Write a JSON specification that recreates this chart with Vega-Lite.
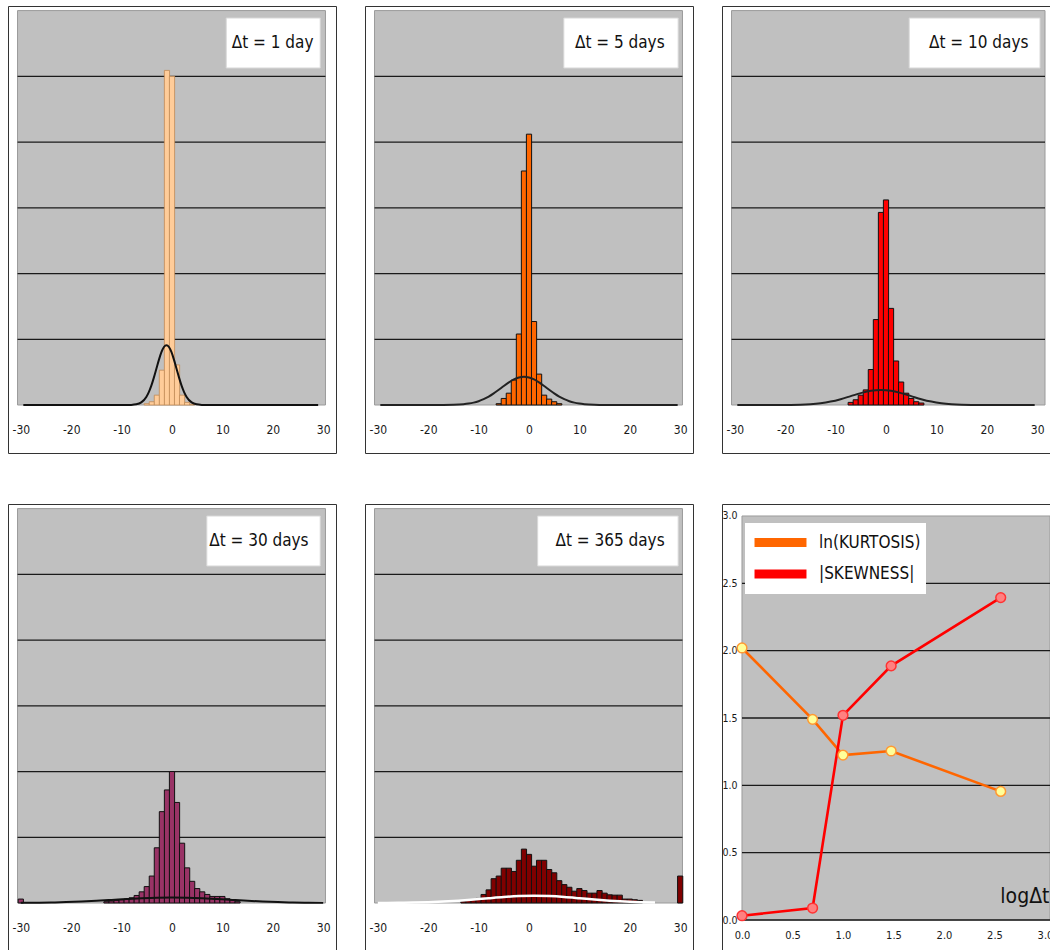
{
  "$schema": "https://vega.github.io/schema/vega-lite/v6.json",
  "background": "white",
  "padding": {"left": 7, "top": 5, "right": 0, "bottom": 0},
  "bounds": "flush",
  "columns": 3,
  "spacing": {"row": 51, "column": 29},
  "config": {
    "locale": {"number": {"decimal": ".", "thousands": ",", "grouping": [3], "currency": ["$", ""], "minus": "-"}},
    "view": {"stroke": "#333333", "strokeWidth": 1, "fill": "white"},
    "axis": {"labelFont": "DejaVu Sans Condensed, Liberation Sans, sans-serif", "labelColor": "#1a1a1a", "labelFontSize": 12, "domain": false, "ticks": false, "grid": false}
  },
  "datasets": {
    "bars1": [
      {"ret": -5, "freq": 0.02}, {"ret": -4, "freq": 0.05}, {"ret": -3, "freq": 0.15}, {"ret": -2, "freq": 0.53},
      {"ret": -1, "freq": 5.09}, {"ret": 0, "freq": 5.0}, {"ret": 1, "freq": 0.61}, {"ret": 2, "freq": 0.15},
      {"ret": 3, "freq": 0.04}, {"ret": 4, "freq": 0.01}
    ],
    "bars5": [
      {"ret": -6, "freq": 0.02}, {"ret": -5, "freq": 0.10}, {"ret": -4, "freq": 0.18}, {"ret": -3, "freq": 0.38},
      {"ret": -2, "freq": 1.08}, {"ret": -1, "freq": 3.56}, {"ret": 0, "freq": 4.12}, {"ret": 1, "freq": 1.27},
      {"ret": 2, "freq": 0.47}, {"ret": 3, "freq": 0.15}, {"ret": 4, "freq": 0.09}, {"ret": 5, "freq": 0.05},
      {"ret": 6, "freq": 0.02}
    ],
    "bars10": [
      {"ret": -7, "freq": 0.04}, {"ret": -6, "freq": 0.08}, {"ret": -5, "freq": 0.15}, {"ret": -4, "freq": 0.23},
      {"ret": -3, "freq": 0.54}, {"ret": -2, "freq": 1.30}, {"ret": -1, "freq": 2.93}, {"ret": 0, "freq": 3.12},
      {"ret": 1, "freq": 1.47}, {"ret": 2, "freq": 0.67}, {"ret": 3, "freq": 0.35}, {"ret": 4, "freq": 0.18},
      {"ret": 5, "freq": 0.10}, {"ret": 6, "freq": 0.05}, {"ret": 7, "freq": 0.03}
    ],
    "bars30": [
      {"ret": -30, "freq": 0.06}, {"ret": -13, "freq": 0.02}, {"ret": -12, "freq": 0.03}, {"ret": -11, "freq": 0.04},
      {"ret": -10, "freq": 0.05}, {"ret": -9, "freq": 0.06}, {"ret": -8, "freq": 0.08}, {"ret": -7, "freq": 0.115},
      {"ret": -6, "freq": 0.17}, {"ret": -5, "freq": 0.25}, {"ret": -4, "freq": 0.41}, {"ret": -3, "freq": 0.84},
      {"ret": -2, "freq": 1.39}, {"ret": -1, "freq": 1.72}, {"ret": 0, "freq": 2.0}, {"ret": 1, "freq": 1.53},
      {"ret": 2, "freq": 0.91}, {"ret": 3, "freq": 0.535}, {"ret": 4, "freq": 0.33}, {"ret": 5, "freq": 0.22},
      {"ret": 6, "freq": 0.17}, {"ret": 7, "freq": 0.13}, {"ret": 8, "freq": 0.10}, {"ret": 9, "freq": 0.10},
      {"ret": 10, "freq": 0.10}, {"ret": 11, "freq": 0.065}, {"ret": 12, "freq": 0.05}, {"ret": 13, "freq": 0.02}
    ],
    "bars365": [
      {"ret": -13, "freq": 0.03}, {"ret": -12, "freq": 0.04}, {"ret": -11, "freq": 0.05}, {"ret": -10, "freq": 0.07},
      {"ret": -9, "freq": 0.13}, {"ret": -8, "freq": 0.20}, {"ret": -7, "freq": 0.37}, {"ret": -6, "freq": 0.41},
      {"ret": -5, "freq": 0.53}, {"ret": -4, "freq": 0.53}, {"ret": -3, "freq": 0.48}, {"ret": -2, "freq": 0.65},
      {"ret": -1, "freq": 0.82}, {"ret": 0, "freq": 0.74}, {"ret": 1, "freq": 0.56}, {"ret": 2, "freq": 0.65},
      {"ret": 3, "freq": 0.65}, {"ret": 4, "freq": 0.51}, {"ret": 5, "freq": 0.46}, {"ret": 6, "freq": 0.34},
      {"ret": 7, "freq": 0.28}, {"ret": 8, "freq": 0.24}, {"ret": 9, "freq": 0.18}, {"ret": 10, "freq": 0.22},
      {"ret": 11, "freq": 0.19}, {"ret": 12, "freq": 0.15}, {"ret": 13, "freq": 0.15}, {"ret": 14, "freq": 0.19},
      {"ret": 15, "freq": 0.15}, {"ret": 16, "freq": 0.125}, {"ret": 17, "freq": 0.12}, {"ret": 18, "freq": 0.12},
      {"ret": 19, "freq": 0.06}, {"ret": 20, "freq": 0.06}, {"ret": 21, "freq": 0.05}, {"ret": 22, "freq": 0.04},
      {"ret": 30, "freq": 0.41}
    ],
    "curve1": [
      {"ret": -29.5, "density": 0}, {"ret": -9.1, "density": 0.0003}, {"ret": -8.1, "density": 0.002}, {"ret": -7.1, "density": 0.0101},
      {"ret": -6.1, "density": 0.040}, {"ret": -5.1, "density": 0.123}, {"ret": -4.6, "density": 0.197}, {"ret": -4.1, "density": 0.295},
      {"ret": -3.6, "density": 0.417}, {"ret": -3.1, "density": 0.552}, {"ret": -2.6, "density": 0.687}, {"ret": -2.1, "density": 0.803},
      {"ret": -1.6, "density": 0.882}, {"ret": -1.1, "density": 0.91}, {"ret": -0.6, "density": 0.882}, {"ret": -0.1, "density": 0.803},
      {"ret": 0.4, "density": 0.687}, {"ret": 0.9, "density": 0.552}, {"ret": 1.4, "density": 0.417}, {"ret": 1.9, "density": 0.295},
      {"ret": 2.4, "density": 0.197}, {"ret": 2.9, "density": 0.123}, {"ret": 3.9, "density": 0.040}, {"ret": 4.9, "density": 0.0101},
      {"ret": 5.9, "density": 0.002}, {"ret": 6.9, "density": 0.0003}, {"ret": 29, "density": 0}
    ],
    "curve5": [
      {"ret": -29.5, "density": 0}, {"ret": -17, "density": 0.0008}, {"ret": -15, "density": 0.0034}, {"ret": -13, "density": 0.0123},
      {"ret": -12, "density": 0.0217}, {"ret": -11, "density": 0.0364}, {"ret": -10, "density": 0.058}, {"ret": -9, "density": 0.0886},
      {"ret": -8, "density": 0.128}, {"ret": -7, "density": 0.177}, {"ret": -6, "density": 0.232}, {"ret": -5, "density": 0.290},
      {"ret": -4, "density": 0.344}, {"ret": -3, "density": 0.390}, {"ret": -2, "density": 0.4195}, {"ret": -1, "density": 0.43},
      {"ret": 0, "density": 0.4195}, {"ret": 1, "density": 0.390}, {"ret": 2, "density": 0.344}, {"ret": 3, "density": 0.290},
      {"ret": 4, "density": 0.232}, {"ret": 5, "density": 0.177}, {"ret": 6, "density": 0.128}, {"ret": 7, "density": 0.0886},
      {"ret": 8, "density": 0.058}, {"ret": 9, "density": 0.0364}, {"ret": 10, "density": 0.0217}, {"ret": 11, "density": 0.0123},
      {"ret": 13, "density": 0.0034}, {"ret": 15, "density": 0.0008}, {"ret": 29.5, "density": 0}
    ],
    "curve10": [
      {"ret": -29.5, "density": 0}, {"ret": -21, "density": 0.0006}, {"ret": -17, "density": 0.0051}, {"ret": -15, "density": 0.0125},
      {"ret": -13, "density": 0.027}, {"ret": -11, "density": 0.052}, {"ret": -9, "density": 0.089}, {"ret": -7, "density": 0.135},
      {"ret": -5, "density": 0.181}, {"ret": -3, "density": 0.217}, {"ret": -1, "density": 0.23}, {"ret": 1, "density": 0.217},
      {"ret": 3, "density": 0.181}, {"ret": 5, "density": 0.135}, {"ret": 7, "density": 0.089}, {"ret": 9, "density": 0.052},
      {"ret": 11, "density": 0.027}, {"ret": 13, "density": 0.0125}, {"ret": 15, "density": 0.0051}, {"ret": 19, "density": 0.0006},
      {"ret": 29.5, "density": 0}
    ],
    "curve30": [
      {"ret": -30, "density": 0.0021}, {"ret": -27, "density": 0.0042}, {"ret": -24, "density": 0.0079}, {"ret": -21, "density": 0.0137},
      {"ret": -18, "density": 0.0223}, {"ret": -15, "density": 0.0335}, {"ret": -12, "density": 0.0469}, {"ret": -9, "density": 0.0608},
      {"ret": -6, "density": 0.0733}, {"ret": -3, "density": 0.0819}, {"ret": 0, "density": 0.085}, {"ret": 3, "density": 0.0819},
      {"ret": 6, "density": 0.0733}, {"ret": 9, "density": 0.0608}, {"ret": 12, "density": 0.0469}, {"ret": 15, "density": 0.0335},
      {"ret": 18, "density": 0.0223}, {"ret": 21, "density": 0.0137}, {"ret": 24, "density": 0.0079}, {"ret": 27, "density": 0.0042},
      {"ret": 30, "density": 0.0021}
    ],
    "curve365": [
      {"ret": -30, "density": 0.0009}, {"ret": -26, "density": 0.0029}, {"ret": -23, "density": 0.0062}, {"ret": -20, "density": 0.0121},
      {"ret": -17, "density": 0.0218}, {"ret": -14, "density": 0.0357}, {"ret": -11, "density": 0.0536}, {"ret": -8, "density": 0.0734},
      {"ret": -5, "density": 0.0919}, {"ret": -2, "density": 0.105}, {"ret": 1, "density": 0.11}, {"ret": 4, "density": 0.105},
      {"ret": 7, "density": 0.0919}, {"ret": 10, "density": 0.0734}, {"ret": 13, "density": 0.0536}, {"ret": 16, "density": 0.0357},
      {"ret": 19, "density": 0.0218}, {"ret": 22, "density": 0.0121}, {"ret": 25, "density": 0.0062}
    ],
    "moments": [
      {"logdt": 0, "series": "ln(KURTOSIS)", "value": 2.02},
      {"logdt": 0.699, "series": "ln(KURTOSIS)", "value": 1.49},
      {"logdt": 1, "series": "ln(KURTOSIS)", "value": 1.225},
      {"logdt": 1.477, "series": "ln(KURTOSIS)", "value": 1.255},
      {"logdt": 2.562, "series": "ln(KURTOSIS)", "value": 0.955},
      {"logdt": 0, "series": "|SKEWNESS|", "value": 0.032},
      {"logdt": 0.699, "series": "|SKEWNESS|", "value": 0.089},
      {"logdt": 1, "series": "|SKEWNESS|", "value": 1.52},
      {"logdt": 1.477, "series": "|SKEWNESS|", "value": 1.887},
      {"logdt": 2.562, "series": "|SKEWNESS|", "value": 2.394}
    ]
  },
  "concat": [
    {
      "width": 328, "height": 447,
      "layer": [
        {"data": {"values": [{}]}, "mark": {"type": "rect", "fill": "#C0C0C0", "stroke": "#9a9a9a", "strokeWidth": 1},
         "encoding": {
           "x": {"datum": -30.65, "type": "quantitative", "scale": {"domain": [-31.55, 31.55], "nice": false, "zero": false},
                 "axis": {"values": [-30, -20, -10, 0, 10, 20, 30], "format": "d", "orient": "bottom", "offset": -29, "labelPadding": 0, "labelBaseline": "top", "labelOverlap": false, "labelFlush": false, "labelBound": false, "title": null}},
           "x2": {"datum": 30.45},
           "y": {"datum": 0, "type": "quantitative", "scale": {"domain": [-0.73, 6.07], "nice": false, "zero": false}, "axis": null},
           "y2": {"datum": 6}}},
        {"data": {"values": [{"level": 1}, {"level": 2}, {"level": 3}, {"level": 4}, {"level": 5}]},
         "mark": {"type": "rule", "stroke": "#1a1a1a", "strokeWidth": 1.3},
         "encoding": {"y": {"field": "level", "type": "quantitative", "axis": null}, "x": {"datum": -30.65, "type": "quantitative"}, "x2": {"datum": 30.45}}},
        {"data": {"name": "bars1"}, "mark": {"type": "bar", "size": 5.2, "fill": "#FFCC99", "stroke": "#C08A55", "strokeWidth": 0.8},
         "encoding": {"x": {"field": "ret", "type": "quantitative"}, "y": {"field": "freq", "type": "quantitative", "axis": null}, "y2": {"datum": 0}}},
        {"data": {"name": "curve1"}, "mark": {"type": "line", "stroke": "#111111", "strokeWidth": 2, "interpolate": "monotone"},
         "encoding": {"x": {"field": "ret", "type": "quantitative"}, "y": {"field": "density", "type": "quantitative", "axis": null}}},
        {"data": {"values": [{"label": "Δt = 1 day"}]}, "mark": {"type": "rect", "fill": "white", "stroke": "#d8d8d8", "strokeWidth": 1},
         "encoding": {"x": {"datum": 10.76, "type": "quantitative"}, "x2": {"datum": 29.41}, "y": {"datum": 5.127, "type": "quantitative", "axis": null}, "y2": {"datum": 5.887}}},
        {"data": {"values": [{"label": "Δt = 1 day"}]}, "mark": {"type": "text", "align": "right", "baseline": "middle", "font": "DejaVu Sans Condensed, Liberation Sans, sans-serif", "fontSize": 17, "color": "#111111"},
         "encoding": {"x": {"datum": 28.07, "type": "quantitative"}, "y": {"datum": 5.507, "type": "quantitative", "axis": null}, "text": {"field": "label"}}}
      ]
    },
    {
      "width": 328, "height": 447,
      "layer": [
        {"data": {"values": [{}]}, "mark": {"type": "rect", "fill": "#C0C0C0", "stroke": "#9a9a9a", "strokeWidth": 1},
         "encoding": {
           "x": {"datum": -30.65, "type": "quantitative", "scale": {"domain": [-31.55, 31.55], "nice": false, "zero": false},
                 "axis": {"values": [-30, -20, -10, 0, 10, 20, 30], "format": "d", "orient": "bottom", "offset": -29, "labelPadding": 0, "labelBaseline": "top", "labelOverlap": false, "labelFlush": false, "labelBound": false, "title": null}},
           "x2": {"datum": 30.45},
           "y": {"datum": 0, "type": "quantitative", "scale": {"domain": [-0.73, 6.07], "nice": false, "zero": false}, "axis": null},
           "y2": {"datum": 6}}},
        {"data": {"values": [{"level": 1}, {"level": 2}, {"level": 3}, {"level": 4}, {"level": 5}]},
         "mark": {"type": "rule", "stroke": "#1a1a1a", "strokeWidth": 1.3},
         "encoding": {"y": {"field": "level", "type": "quantitative", "axis": null}, "x": {"datum": -30.65, "type": "quantitative"}, "x2": {"datum": 30.45}}},
        {"data": {"name": "bars5"}, "mark": {"type": "bar", "size": 5.2, "fill": "#FF6600", "stroke": "#111111", "strokeWidth": 1},
         "encoding": {"x": {"field": "ret", "type": "quantitative"}, "y": {"field": "freq", "type": "quantitative", "axis": null}, "y2": {"datum": 0}}},
        {"data": {"name": "curve5"}, "mark": {"type": "line", "stroke": "#222222", "strokeWidth": 2, "interpolate": "monotone"},
         "encoding": {"x": {"field": "ret", "type": "quantitative"}, "y": {"field": "density", "type": "quantitative", "axis": null}}},
        {"data": {"values": [{"label": "Δt = 5 days"}]}, "mark": {"type": "rect", "fill": "white", "stroke": "#d8d8d8", "strokeWidth": 1},
         "encoding": {"x": {"datum": 6.91, "type": "quantitative"}, "x2": {"datum": 29.6}, "y": {"datum": 5.127, "type": "quantitative", "axis": null}, "y2": {"datum": 5.887}}},
        {"data": {"values": [{"label": "Δt = 5 days"}]}, "mark": {"type": "text", "align": "right", "baseline": "middle", "font": "DejaVu Sans Condensed, Liberation Sans, sans-serif", "fontSize": 17, "color": "#111111"},
         "encoding": {"x": {"datum": 26.91, "type": "quantitative"}, "y": {"datum": 5.507, "type": "quantitative", "axis": null}, "text": {"field": "label"}}}
      ]
    },
    {
      "width": 328, "height": 447,
      "layer": [
        {"data": {"values": [{}]}, "mark": {"type": "rect", "fill": "#C0C0C0", "stroke": "#9a9a9a", "strokeWidth": 1},
         "encoding": {
           "x": {"datum": -30.65, "type": "quantitative", "scale": {"domain": [-31.55, 31.55], "nice": false, "zero": false},
                 "axis": {"values": [-30, -20, -10, 0, 10, 20, 30], "format": "d", "orient": "bottom", "offset": -29, "labelPadding": 0, "labelBaseline": "top", "labelOverlap": false, "labelFlush": false, "labelBound": false, "title": null}},
           "x2": {"datum": 31.55},
           "y": {"datum": 0, "type": "quantitative", "scale": {"domain": [-0.73, 6.07], "nice": false, "zero": false}, "axis": null},
           "y2": {"datum": 6}}},
        {"data": {"values": [{"level": 1}, {"level": 2}, {"level": 3}, {"level": 4}, {"level": 5}]},
         "mark": {"type": "rule", "stroke": "#1a1a1a", "strokeWidth": 1.3},
         "encoding": {"y": {"field": "level", "type": "quantitative", "axis": null}, "x": {"datum": -30.65, "type": "quantitative"}, "x2": {"datum": 31.55}}},
        {"data": {"name": "bars10"}, "mark": {"type": "bar", "size": 5.2, "fill": "#FF0000", "stroke": "#111111", "strokeWidth": 1},
         "encoding": {"x": {"field": "ret", "type": "quantitative"}, "y": {"field": "freq", "type": "quantitative", "axis": null}, "y2": {"datum": 0}}},
        {"data": {"name": "curve10"}, "mark": {"type": "line", "stroke": "#222222", "strokeWidth": 2, "interpolate": "monotone"},
         "encoding": {"x": {"field": "ret", "type": "quantitative"}, "y": {"field": "density", "type": "quantitative", "axis": null}}},
        {"data": {"values": [{"label": "Δt = 10 days"}]}, "mark": {"type": "rect", "fill": "white", "stroke": "#d8d8d8", "strokeWidth": 1},
         "encoding": {"x": {"datum": 4.6, "type": "quantitative"}, "x2": {"datum": 30.56}, "y": {"datum": 5.127, "type": "quantitative", "axis": null}, "y2": {"datum": 5.887}}},
        {"data": {"values": [{"label": "Δt = 10 days"}]}, "mark": {"type": "text", "align": "right", "baseline": "middle", "font": "DejaVu Sans Condensed, Liberation Sans, sans-serif", "fontSize": 17, "color": "#111111"},
         "encoding": {"x": {"datum": 28.26, "type": "quantitative"}, "y": {"datum": 5.507, "type": "quantitative", "axis": null}, "text": {"field": "label"}}}
      ]
    },
    {
      "width": 328, "height": 447,
      "layer": [
        {"data": {"values": [{}]}, "mark": {"type": "rect", "fill": "#C0C0C0", "stroke": "#9a9a9a", "strokeWidth": 1},
         "encoding": {
           "x": {"datum": -30.65, "type": "quantitative", "scale": {"domain": [-31.55, 31.55], "nice": false, "zero": false},
                 "axis": {"values": [-30, -20, -10, 0, 10, 20, 30], "format": "d", "orient": "bottom", "offset": -29, "labelPadding": 0, "labelBaseline": "top", "labelOverlap": false, "labelFlush": false, "labelBound": false, "title": null}},
           "x2": {"datum": 30.45},
           "y": {"datum": 0, "type": "quantitative", "scale": {"domain": [-0.73, 6.07], "nice": false, "zero": false}, "axis": null},
           "y2": {"datum": 6}}},
        {"data": {"values": [{"level": 1}, {"level": 2}, {"level": 3}, {"level": 4}, {"level": 5}]},
         "mark": {"type": "rule", "stroke": "#1a1a1a", "strokeWidth": 1.3},
         "encoding": {"y": {"field": "level", "type": "quantitative", "axis": null}, "x": {"datum": -30.65, "type": "quantitative"}, "x2": {"datum": 30.45}}},
        {"data": {"name": "bars30"}, "mark": {"type": "bar", "size": 5.2, "fill": "#993366", "stroke": "#111111", "strokeWidth": 1},
         "encoding": {"x": {"field": "ret", "type": "quantitative"}, "y": {"field": "freq", "type": "quantitative", "axis": null}, "y2": {"datum": 0}}},
        {"data": {"name": "curve30"}, "mark": {"type": "line", "stroke": "#111111", "strokeWidth": 2, "interpolate": "monotone"},
         "encoding": {"x": {"field": "ret", "type": "quantitative"}, "y": {"field": "density", "type": "quantitative", "axis": null}}},
        {"data": {"values": [{"label": "Δt = 30 days"}]}, "mark": {"type": "rect", "fill": "white", "stroke": "#d8d8d8", "strokeWidth": 1},
         "encoding": {"x": {"datum": 6.91, "type": "quantitative"}, "x2": {"datum": 29.41}, "y": {"datum": 5.127, "type": "quantitative", "axis": null}, "y2": {"datum": 5.887}}},
        {"data": {"values": [{"label": "Δt = 30 days"}]}, "mark": {"type": "text", "align": "right", "baseline": "middle", "font": "DejaVu Sans Condensed, Liberation Sans, sans-serif", "fontSize": 17, "color": "#111111"},
         "encoding": {"x": {"datum": 27.1, "type": "quantitative"}, "y": {"datum": 5.507, "type": "quantitative", "axis": null}, "text": {"field": "label"}}}
      ]
    },
    {
      "width": 328, "height": 447,
      "layer": [
        {"data": {"values": [{}]}, "mark": {"type": "rect", "fill": "#C0C0C0", "stroke": "#9a9a9a", "strokeWidth": 1},
         "encoding": {
           "x": {"datum": -30.65, "type": "quantitative", "scale": {"domain": [-31.55, 31.55], "nice": false, "zero": false},
                 "axis": {"values": [-30, -20, -10, 0, 10, 20, 30], "format": "d", "orient": "bottom", "offset": -29, "labelPadding": 0, "labelBaseline": "top", "labelOverlap": false, "labelFlush": false, "labelBound": false, "title": null}},
           "x2": {"datum": 30.45},
           "y": {"datum": 0, "type": "quantitative", "scale": {"domain": [-0.73, 6.07], "nice": false, "zero": false}, "axis": null},
           "y2": {"datum": 6}}},
        {"data": {"values": [{"level": 1}, {"level": 2}, {"level": 3}, {"level": 4}, {"level": 5}]},
         "mark": {"type": "rule", "stroke": "#1a1a1a", "strokeWidth": 1.3},
         "encoding": {"y": {"field": "level", "type": "quantitative", "axis": null}, "x": {"datum": -30.65, "type": "quantitative"}, "x2": {"datum": 30.45}}},
        {"data": {"name": "bars365"}, "mark": {"type": "bar", "size": 5.2, "fill": "#800000", "stroke": "#111111", "strokeWidth": 1},
         "encoding": {"x": {"field": "ret", "type": "quantitative"}, "y": {"field": "freq", "type": "quantitative", "axis": null}, "y2": {"datum": 0}}},
        {"data": {"name": "curve365"}, "mark": {"type": "line", "stroke": "#FFFFFF", "strokeWidth": 2.5, "interpolate": "monotone"},
         "encoding": {"x": {"field": "ret", "type": "quantitative"}, "y": {"field": "density", "type": "quantitative", "axis": null}}},
        {"data": {"values": [{"label": "Δt = 365 days"}]}, "mark": {"type": "rect", "fill": "white", "stroke": "#d8d8d8", "strokeWidth": 1},
         "encoding": {"x": {"datum": 1.72, "type": "quantitative"}, "x2": {"datum": 29.6}, "y": {"datum": 5.127, "type": "quantitative", "axis": null}, "y2": {"datum": 5.887}}},
        {"data": {"values": [{"label": "Δt = 365 days"}]}, "mark": {"type": "text", "align": "right", "baseline": "middle", "font": "DejaVu Sans Condensed, Liberation Sans, sans-serif", "fontSize": 17, "color": "#111111"},
         "encoding": {"x": {"datum": 26.91, "type": "quantitative"}, "y": {"datum": 5.507, "type": "quantitative", "axis": null}, "text": {"field": "label"}}}
      ]
    },
    {
      "width": 328, "height": 447,
      "layer": [
        {"data": {"values": [{}]}, "mark": {"type": "rect", "fill": "#C0C0C0", "stroke": "#9a9a9a", "strokeWidth": 1},
         "encoding": {
           "x": {"datum": 0, "type": "quantitative", "scale": {"domain": [-0.198, 3.05], "nice": false, "zero": false},
                 "axis": {"values": [0, 0.5, 1, 1.5, 2, 2.5, 3], "format": ".1f", "orient": "bottom", "offset": -22, "labelPadding": 0, "labelBaseline": "top", "labelFontSize": 11, "labelOverlap": false, "labelFlush": false, "labelBound": false, "title": null}},
           "x2": {"datum": 3.05},
           "y": {"datum": 0, "type": "quantitative", "scale": {"domain": [-0.23, 3.089], "nice": false, "zero": false},
                 "axis": {"values": [0, 0.5, 1, 1.5, 2, 2.5, 3], "format": ".1f", "orient": "left", "offset": -17, "labelPadding": 2, "labelAlign": "right", "labelBaseline": "middle", "labelFontSize": 10.5, "labelOverlap": false, "labelFlush": false, "labelBound": false, "title": null}},
           "y2": {"datum": 3}}},
        {"data": {"values": [{"level": 0}, {"level": 0.5}, {"level": 1}, {"level": 1.5}, {"level": 2}, {"level": 2.5}]},
         "mark": {"type": "rule", "stroke": "#1a1a1a", "strokeWidth": 1.3},
         "encoding": {"y": {"field": "level", "type": "quantitative"}, "x": {"datum": 0, "type": "quantitative"}, "x2": {"datum": 3.05}}},
        {"data": {"name": "moments"}, "mark": {"type": "line", "strokeWidth": 2.6},
         "encoding": {
           "x": {"field": "logdt", "type": "quantitative"},
           "y": {"field": "value", "type": "quantitative"},
           "color": {"field": "series", "type": "nominal",
                     "scale": {"domain": ["ln(KURTOSIS)", "|SKEWNESS|"], "range": ["#FF6600", "#FF0000"]},
                     "legend": {"orient": "none", "legendX": 737, "legendY": 517, "fillColor": "white", "padding": 5, "title": null,
                                "symbolType": "stroke", "symbolStrokeWidth": 9, "symbolSize": 2700, "clipHeight": 29, "rowPadding": 2.6,
                                "labelFont": "DejaVu Sans Condensed, Liberation Sans, sans-serif",
                                "labelFontSize": 17, "labelOffset": 8, "labelColor": "#111111", "labelLimit": 300}}}},
        {"data": {"name": "moments"}, "mark": {"type": "circle", "size": 95, "strokeWidth": 1.5, "opacity": 1},
         "encoding": {
           "x": {"field": "logdt", "type": "quantitative"},
           "y": {"field": "value", "type": "quantitative"},
           "fill": {"field": "series", "type": "nominal", "scale": {"domain": ["ln(KURTOSIS)", "|SKEWNESS|"], "range": ["#FFFF99", "#FF8080"]}, "legend": null},
           "stroke": {"field": "series", "type": "nominal", "scale": {"domain": ["ln(KURTOSIS)", "|SKEWNESS|"], "range": ["#FF9933", "#FF3333"]}, "legend": null}}},
        {"data": {"values": [{"t": "logΔt"}]}, "mark": {"type": "text", "align": "right", "baseline": "alphabetic", "font": "DejaVu Sans Condensed, Liberation Sans, sans-serif", "fontSize": 21, "color": "#111111"},
         "encoding": {"x": {"datum": 3.045, "type": "quantitative"}, "y": {"datum": 0.126, "type": "quantitative"}, "text": {"field": "t"}}}
      ]
    }
  ]
}
